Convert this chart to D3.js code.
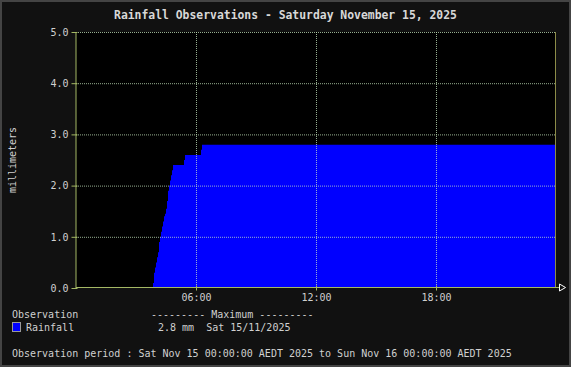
<!DOCTYPE html>
<html>
<head>
    <meta charset="utf-8">
    <title>Rainfall Observations</title>
    <script type="text/javascript" src="https://d3js.org/d3.v7.min.js"></script>
    <style type="text/css">
        body { margin: 0; background: #111; }
        text { font-family: "DejaVu Sans Mono", monospace; fill: #d0d0d0; white-space: pre; }
    </style>
</head>
<body>
<script type="text/javascript">

    // cumulative rainfall (mm) by minutes since midnight
    var obsMinutes = [0, 231, 234, 237, 240, 243, 246, 249, 252, 255, 258, 261, 264, 267, 270,
                      273, 276, 279, 282, 285, 288, 291, 294, 324, 327, 375, 378, 1440];
    var obsRain    = [0, 0.1, 0.3, 0.4, 0.5, 0.6, 0.7, 0.9, 1.0, 1.1, 1.2, 1.3, 1.4, 1.45, 1.55,
                      1.7, 1.9, 2.0, 2.1, 2.2, 2.3, 2.4, 2.4, 2.5, 2.6, 2.7, 2.8, 2.8];
    var yTicks = [0, 1, 2, 3, 4, 5];
    var xTickMinutes = [360, 720, 1080];
    var xTickLabels = ["06:00", "12:00", "18:00"];

    var W = 571, H = 367;
    var margin = {top: 32, right: 15, bottom: 79, left: 76};
    var width = W - margin.left - margin.right,
        height = H - margin.top - margin.bottom;

    var data = obsMinutes.map(function(m, i) { return {min: m, mm: obsRain[i]}; });

    var x = d3.scaleLinear().domain([0, 1440]).range([0, width]);
    var y = d3.scaleLinear().domain([0, 5]).range([height, 0]);

    var root = d3.select("body").append("svg")
        .attr("width", W)
        .attr("height", H);

    root.append("rect").attr("width", W).attr("height", H).attr("fill", "#444");
    root.append("rect").attr("x", 2).attr("y", 2).attr("width", W - 4).attr("height", H - 4).attr("fill", "#111");

    root.append("text")
        .attr("x", W / 2).attr("y", 19)
        .attr("text-anchor", "middle")
        .style("font-size", "11.4px").style("font-weight", "bold").style("fill", "#d8d8d8")
        .text("Rainfall Observations - Saturday November 15, 2025");

    root.append("text")
        .attr("text-anchor", "middle")
        .attr("transform", "translate(16," + (margin.top + height / 2) + ")rotate(-90)")
        .style("font-size", "10px")
        .text("millimeters");

    var svg = root.append("g")
        .attr("transform", "translate(" + margin.left + "," + margin.top + ")");

    svg.append("rect").attr("width", width).attr("height", height).attr("fill", "#000");

    var area = d3.area()
        .curve(d3.curveStepAfter)
        .x(function(d) { return x(d.min); })
        .y0(y(0))
        .y1(function(d) { return y(d.mm); });

    svg.append("path").datum(data).attr("d", area).attr("fill", "#0000ff");

    // grid
    svg.selectAll(".hgrid").data(yTicks.slice(1)).enter().append("line")
        .attr("x1", 0).attr("x2", width)
        .attr("y1", function(d) { return y(d) + 0.5; })
        .attr("y2", function(d) { return y(d) + 0.5; })
        .attr("stroke", "#c8e8c0").attr("stroke-opacity", 0.75).attr("stroke-dasharray", "1,1");
    svg.selectAll(".vgrid").data(xTickMinutes).enter().append("line")
        .attr("x1", function(d) { return x(d) + 0.5; })
        .attr("x2", function(d) { return x(d) + 0.5; })
        .attr("y1", 0).attr("y2", height)
        .attr("stroke", "#c8e8c0").attr("stroke-opacity", 0.75).attr("stroke-dasharray", "1,1");
    svg.append("line")
        .attr("x1", 0).attr("x2", width)
        .attr("y1", y(0) - 0.5).attr("y2", y(0) - 0.5)
        .attr("stroke", "#c8e8c0").attr("stroke-opacity", 0.75).attr("stroke-dasharray", "1,1");

    // right border
    svg.append("line")
        .attr("x1", width - 0.5).attr("x2", width - 0.5)
        .attr("y1", 0).attr("y2", height)
        .attr("stroke", "#8c8c48");

    // y axis
    var yAxis = svg.append("g")
        .attr("transform", "translate(-0.5,0)")
        .call(d3.axisLeft(y).tickValues(yTicks).tickFormat(d3.format(".1f"))
            .tickSizeInner(4).tickSizeOuter(0).tickPadding(3));
    yAxis.select(".domain").attr("stroke", "#a4b864");
    yAxis.selectAll(".tick line").attr("stroke", "#a4b864").attr("x2", 2).attr("x1", -4);
    yAxis.selectAll(".tick text").style("font-size", "10px").style("font-family", "DejaVu Sans Mono").attr("fill", "#d0d0d0");

    // x axis
    var xAxis = svg.append("g")
        .attr("transform", "translate(0," + (height - 0.5) + ")")
        .call(d3.axisBottom(x).tickValues(xTickMinutes)
            .tickFormat(function(d, i) { return xTickLabels[i]; })
            .tickSizeInner(3).tickSizeOuter(0).tickPadding(3));
    xAxis.select(".domain").attr("stroke", "#a4b864").attr("d", "M0,0H" + (width + 4));
    xAxis.selectAll(".tick line").attr("stroke", "#a4b864").attr("y1", -2);
    xAxis.selectAll(".tick text").style("font-size", "10px").style("font-family", "DejaVu Sans Mono").attr("fill", "#d0d0d0");

    // arrow
    svg.append("path")
        .attr("d", "M" + (width + 3.5) + "," + (height - 4) + "L" + (width + 9.5) + "," + (height - 0.5) + "L" + (width + 3.5) + "," + (height + 3) + "Z")
        .attr("fill", "#111").attr("stroke", "#ffffff");

    // legend
    root.append("text").attr("x", 12).attr("y", 318).style("font-size", "10px").text("Observation");
    root.append("text").attr("x", 151).attr("y", 318).style("font-size", "10px").text("--------- Maximum ---------");
    root.append("rect").attr("x", 12.5).attr("y", 322.5).attr("width", 8).attr("height", 9)
        .attr("fill", "#0000ff").attr("stroke", "#999");
    root.append("text").attr("x", 26).attr("y", 331).style("font-size", "10px").text("Rainfall");
    root.append("text").attr("x", 158).attr("y", 331).style("font-size", "10px")
        .text(d3.max(obsRain).toFixed(1) + " mm  Sat 15/11/2025");
    root.append("text").attr("x", 12).attr("y", 357).style("font-size", "10px")
        .text("Observation period : Sat Nov 15 00:00:00 AEDT 2025 to Sun Nov 16 00:00:00 AEDT 2025");

</script>
</body>
</html>
